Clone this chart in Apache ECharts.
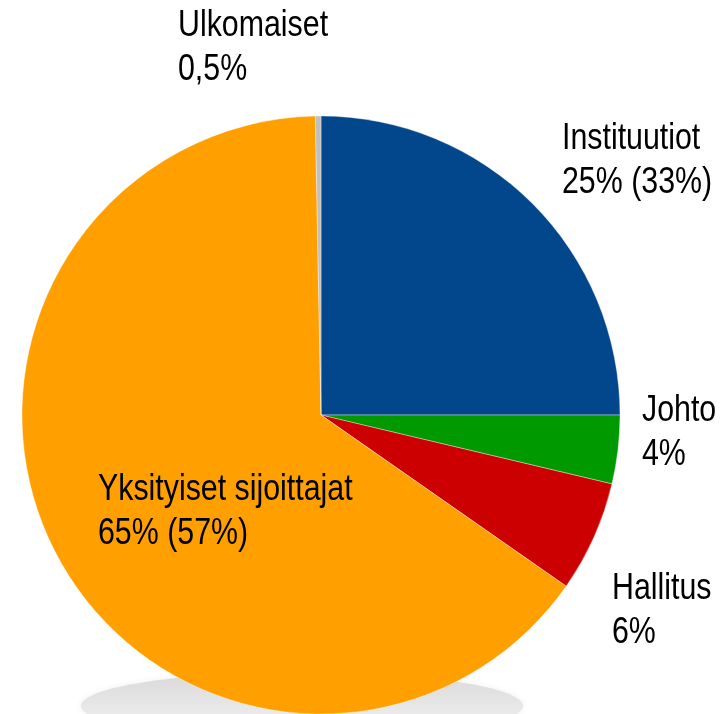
<!DOCTYPE html>
<html>
<head>
<meta charset="utf-8">
<script src="https://cdn.jsdelivr.net/npm/echarts@6/dist/echarts.min.js"></script>
<style>
  html, body { margin: 0; padding: 0; background: #fff; }
  #chart { width: 723px; height: 714px; }
</style>
</head>
<body>
<div id="chart"></div>
<script>
// omistajaryhmät, myötäpäivään klo 12:sta
const names = ['Instituutiot', 'Johto', 'Hallitus', 'Yksityiset sijoittajat', 'Ulkomaiset'];
const shares = [25, 3.7, 6, 65, 0.3];
const shareTexts = ['25% (33%)', '4%', '6%', '65% (57%)', '0,5%'];
const colors = ['#02468c', '#009900', '#cc0000', '#ffa000', '#c0c0c0'];

// tekstien paikat (vasen reuna, tekstilohkon keskikohta)
const labelX = [562, 642, 612, 98, 178];
const labelY = [161, 433, 611, 512, 48];

const chart = echarts.init(document.getElementById('chart'));

// kapea fontti puuttuu -> tavallinen Liberation Sans kavennettuna
const labelTexts = names.map((n, i) => ({
  type: 'text',
  z: 10,
  x: labelX[i],
  y: labelY[i],
  scaleX: 0.82,
  style: {
    text: n + '\n' + shareTexts[i],
    fill: '#000',
    fontFamily: '"Liberation Sans", Arial, sans-serif',
    fontSize: 37,
    lineHeight: 44,
    align: 'left',
    verticalAlign: 'middle'
  }
}));

const option = {
  animation: false,
  graphic: [{
    type: 'ellipse',
    z: 0,
    shape: { cx: 302, cy: 706, rx: 221, ry: 34 },
    style: {
      fill: new echarts.graphic.LinearGradient(0, 0, 0, 1, [
        { offset: 0, color: '#d9d9d9' },
        { offset: 1, color: '#f5f5f5' }
      ]),
      shadowBlur: 6,
      shadowColor: 'rgba(0,0,0,0.06)'
    }
  }].concat(labelTexts),
  series: [{
    type: 'pie',
    z: 5,
    center: [321, 415],
    radius: [0, 299],
    startAngle: 90,
    clockwise: true,
    silent: true,
    itemStyle: {
      borderColor: 'rgba(255,255,255,0.6)',
      borderWidth: 0.6
    },
    label: { show: false },
    labelLine: { show: false },
    data: names.map((n, i) => ({
      name: n,
      value: shares[i],
      itemStyle: { color: colors[i] }
    }))
  }]
};

chart.setOption(option);
</script>
</body>
</html>
